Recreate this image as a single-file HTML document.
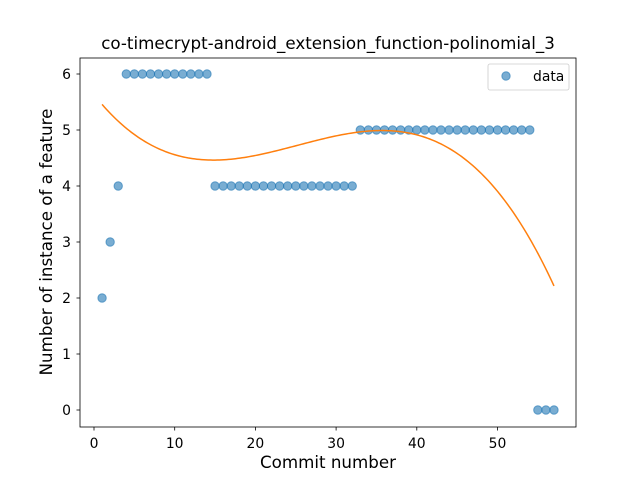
<!DOCTYPE html>
<html><head><meta charset="utf-8"><style>
body{margin:0;background:#fff;}
svg{font-family:"DejaVu Sans","Liberation Sans",sans-serif;}
</style></head><body>
<svg id="chart" width="640" height="480" viewBox="0 0 640 480" xmlns="http://www.w3.org/2000/svg">
<rect width="640" height="480" fill="#fff"/>
<text x="328" y="49" font-size="16.7" text-anchor="middle">co-timecrypt-android_extension_function-polinomial_3</text>
<g id="plot"></g>
<rect x="80" y="58" width="496" height="369" fill="none" stroke="#000" stroke-width="0.8"/>
<text x="328" y="468" font-size="16.7" text-anchor="middle">Commit number</text>
<text transform="translate(52,242) rotate(-90)" font-size="16.7" text-anchor="middle">Number of instance of a feature</text>
<g>
<rect x="488" y="64" width="81" height="26" rx="2" fill="#fff" fill-opacity="0.8" stroke="#ccc" stroke-width="0.8"/>
<circle cx="506" cy="76" r="4.2" fill="#1f77b4" fill-opacity="0.6" stroke="#1f77b4" stroke-opacity="0.6"/>
<text x="533" y="81" font-size="13.9">data</text>
</g>
</svg>
<script>
const xValues=[1,2,3,4,5,6,7,8,9,10,11,12,13,14,15,16,17,18,19,20,21,22,23,24,25,26,27,28,29,30,31,32,33,34,35,36,37,38,39,40,41,42,43,44,45,46,47,48,49,50,51,52,53,54,55,56,57];
const yValues=[2,3,4,6,6,6,6,6,6,6,6,6,6,6,4,4,4,4,4,4,4,4,4,4,4,4,4,4,4,4,4,4,5,5,5,5,5,5,5,5,5,5,5,5,5,5,5,5,5,5,5,5,5,5,0,0,0];
const xTicks=[0,10,20,30,40,50];
const yTicks=[0,1,2,3,4,5,6];
const NS="http://www.w3.org/2000/svg";
const sx=v=>94+v*8.07;
const sy=v=>410-v*56;
const plot=document.getElementById('plot');
function mk(t,a){const e=document.createElementNS(NS,t);for(const k in a)e.setAttribute(k,a[k]);return e;}
xTicks.forEach(t=>{
 const l=mk('line',{x1:sx(t),x2:sx(t),y1:427,y2:430.5,stroke:'#000','stroke-width':0.8});
 
 
 plot.appendChild(l);
 const tx=mk('text',{x:sx(t),y:448,'font-size':13.9,'text-anchor':'middle'});tx.textContent=t;
 
 
 plot.appendChild(tx);
});
yTicks.forEach(t=>{
 const l=mk('line',{x1:76.5,x2:80,y1:sy(t),y2:sy(t),stroke:'#000','stroke-width':0.8});
 
 
 plot.appendChild(l);
 const tx=mk('text',{x:71,y:sy(t)+5,'font-size':13.9,'text-anchor':'end'});tx.textContent=t;
 
 
 plot.appendChild(tx);
});
xValues.forEach((x,i)=>{
 const c=mk('circle',{cx:sx(x),cy:sy(yValues[i]),r:4.2,fill:'#1f77b4','fill-opacity':0.6,stroke:'#1f77b4','stroke-opacity':0.6});
 
 
 plot.appendChild(c);
});
// cubic least-squares fit
const deg=3,n=deg+1;
const A=[];for(let i=0;i<n;i++){A.push(new Array(n+1).fill(0));}
xValues.forEach((x,k)=>{const y=yValues[k];for(let i=0;i<n;i++){for(let j=0;j<n;j++)A[i][j]+=Math.pow(x,i+j);A[i][n]+=Math.pow(x,i)*y;}});
for(let i=0;i<n;i++){let p=i;for(let r=i+1;r<n;r++)if(Math.abs(A[r][i])>Math.abs(A[p][i]))p=r;[A[i],A[p]]=[A[p],A[i]];
 for(let r=0;r<n;r++){if(r===i)continue;const f=A[r][i]/A[i][i];for(let c=i;c<=n;c++)A[r][c]-=f*A[i][c];}}
const coef=A.map((row,i)=>row[n]/row[i]);
const f=x=>coef.reduce((s,c,i)=>s+c*Math.pow(x,i),0);
const x0=Math.min(...xValues),x1=Math.max(...xValues);
let d='';for(let i=0;i<=200;i++){const x=x0+(x1-x0)*i/200;d+=(i?'L':'M')+sx(x).toFixed(2)+','+sy(f(x)).toFixed(2);}
const path=mk('path',{d:d,fill:'none',stroke:'#ff7f0e','stroke-width':1.5});


plot.appendChild(path);
</script>
</body></html>
